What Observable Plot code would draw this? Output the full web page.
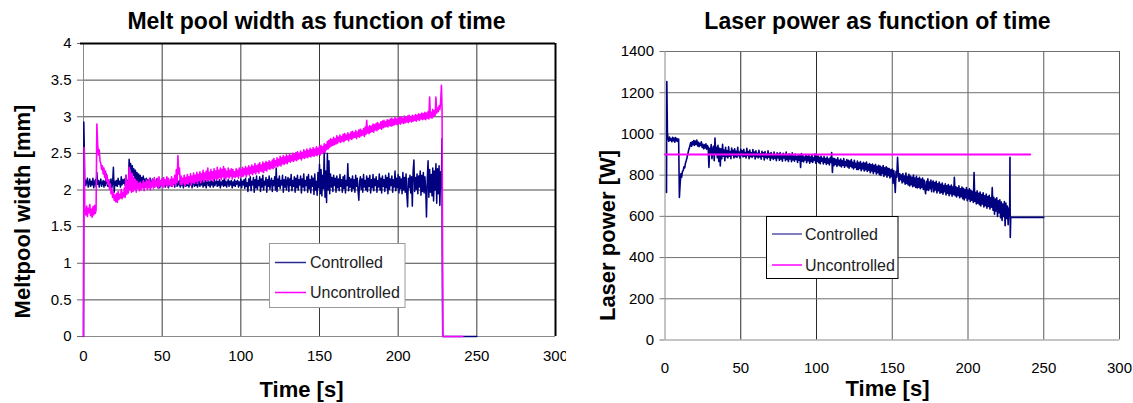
<!DOCTYPE html>
<html><head><meta charset="utf-8">
<script src="https://cdn.jsdelivr.net/npm/d3@7"></script>
<script src="https://cdn.jsdelivr.net/npm/@observablehq/plot@0.6"></script>
<style>
body{margin:0;background:#fff;}
#wrap{position:relative;width:1133px;height:403px;}
#left{position:absolute;left:0;top:0;}
#right{position:absolute;left:566px;top:0;}
</style></head><body><div id="wrap"><div id="left"></div><div id="right"></div></div>
<script>
// ---------- data ----------
const timeTicks = [0, 50, 100, 150, 200, 250, 300];
const widthTicks = [0, 0.5, 1, 1.5, 2, 2.5, 3, 3.5, 4];
const powerTicks = [0, 200, 400, 600, 800, 1000, 1200, 1400];
const seriesNames = ["Controlled", "Uncontrolled"];
const STEP = 0.5; // sampling step of the body arrays [s]

// Melt pool width, controlled [mm]  (body: t = 1 .. 227.5)
const cwHead = [[0, 0], [0.2, 2.93], [0.5, 2.58], [0.8, 2.1]];
const cwStart = 1;
const cwBody = [
2.14,2.06,2.11,2.16,2.04,2.09,2.15,2.05,2.12,2.07,
2.16,2.03,2.10,2.14,2.05,2.24,2.08,2.13,2.04,2.11,
2.15,2.05,2.09,2.13,2.04,2.12,2.06,2.22,2.10,2.05,
2.14,2.04,2.11,2.15,2.03,2.09,2.31,1.97,2.12,2.06,
2.13,2.05,2.16,2.08,2.12,2.04,2.18,2.07,2.14,2.09,
2.15,2.06,2.20,2.10,2.13,2.05,2.42,2.30,2.36,2.18,
2.33,2.20,2.29,2.16,2.27,2.12,2.24,2.10,2.22,2.08,
2.20,2.07,2.17,2.09,2.19,2.05,2.15,2.08,2.16,2.04,
2.14,2.06,2.12,2.16,2.04,2.10,2.15,2.05,2.13,2.07,
2.11,2.15,2.04,2.09,2.14,2.03,2.12,2.06,2.15,2.05,
2.10,2.13,2.04,2.12,2.07,2.15,2.03,2.11,2.06,2.14,
2.05,2.12,2.08,2.13,2.04,2.10,2.14,2.05,2.12,2.07,
2.13,2.04,2.11,2.06,2.14,2.03,2.10,2.12,2.05,2.13,
2.06,2.11,2.04,2.14,2.07,2.12,2.03,2.10,2.13,2.05,
2.12,2.06,2.14,2.04,2.09,2.13,2.05,2.11,2.07,2.14,
2.04,2.12,2.06,2.13,2.03,2.10,2.14,2.06,2.11,2.04,
2.13,2.07,2.12,2.04,2.15,2.06,2.10,2.13,2.05,2.12,
2.06,2.14,2.03,2.11,2.07,2.13,2.05,2.16,2.06,2.12,
2.04,2.10,2.14,2.05,2.12,2.07,2.13,2.03,2.11,2.06,
2.14,2.05,2.12,2.08,2.13,2.04,2.11,2.06,2.15,2.03,
2.12,2.07,2.14,2.02,2.16,2.05,2.10,1.98,2.15,2.06,
2.18,1.99,2.12,2.07,2.17,1.97,2.14,2.03,2.19,2.01,
2.13,2.06,2.18,1.98,2.15,2.04,2.20,2.00,2.12,2.07,
2.17,1.97,2.14,2.05,2.19,2.01,2.11,2.16,1.98,2.13,
2.06,2.18,2.00,2.30,1.98,2.15,2.05,2.19,2.02,2.13,
2.07,2.20,1.97,2.14,2.04,2.18,2.00,2.12,2.17,1.98,
2.15,2.06,2.21,1.99,2.13,2.05,2.18,1.97,2.16,2.03,
2.20,2.00,2.14,2.07,2.19,1.96,2.15,2.04,2.22,1.99,
2.13,2.06,2.18,1.97,2.21,2.02,2.14,1.96,2.19,2.05,
2.16,1.94,2.22,2.00,2.12,1.93,2.24,2.03,2.35,1.95,
2.28,1.92,2.20,2.02,2.52,1.90,2.26,1.83,2.50,2.00,
2.40,1.95,2.22,2.04,2.17,1.98,2.20,2.06,2.16,1.97,
2.19,2.03,2.15,1.99,2.21,2.05,2.14,1.97,2.18,2.02,
2.20,1.96,2.13,2.06,2.36,1.99,2.17,2.04,2.15,1.98,
2.19,2.02,2.14,1.97,2.20,2.05,2.16,1.99,1.86,2.12,
2.18,2.01,2.15,1.97,2.21,2.04,2.13,2.00,2.19,1.98,
2.16,2.05,2.20,1.96,2.14,2.03,2.21,1.99,2.15,2.06,
2.18,1.97,2.13,2.04,2.22,2.00,2.16,1.96,2.19,2.05,
2.14,1.98,2.20,2.03,2.17,1.95,2.23,2.01,2.15,2.06,
2.19,1.97,2.14,2.04,2.26,1.99,2.16,2.03,2.21,1.96,
2.18,2.02,2.15,1.95,2.24,2.00,2.17,1.97,2.22,1.94,
1.77,2.16,2.03,2.20,1.96,2.18,1.78,2.25,2.41,1.98,
2.17,2.01,2.22,1.95,2.19,2.04,2.26,1.93,2.20,1.98,
2.24,1.96,2.18,2.02,1.63,2.15,2.40,1.90,2.28,1.97,
2.21,1.92,2.30,1.85,2.26,2.00,2.36,1.82,2.29,1.95,
2.33,1.79,2.25,2.02
];
const cwTail = [[227.8, 2.7], [228, 1.23], [228.3, 0], [250, 0]];

// Melt pool width, uncontrolled [mm]  (body: t = 1 .. 227.5)
const uwHead = [[0, 0], [0.4, 2.58], [0.8, 1.7]];
const uwStart = 1;
const uwBody = [
1.72,1.66,1.78,1.64,1.75,1.69,1.80,1.65,1.74,1.63,
1.77,1.66,1.79,1.68,1.73,2.90,2.62,2.48,2.55,2.40,
2.36,2.28,2.33,2.22,2.30,2.17,2.26,2.12,2.20,2.08,
2.14,2.01,2.08,1.95,2.02,1.90,1.97,1.86,1.93,1.84,
1.95,1.83,1.98,1.87,1.94,1.89,2.01,1.88,1.97,1.91,
2.03,1.90,2.20,1.94,2.12,1.96,2.31,2.00,2.24,1.97,
2.22,1.98,2.17,2.01,2.14,1.97,2.12,2.02,2.09,1.99,
2.11,2.00,2.08,2.03,2.13,1.99,2.10,2.04,2.14,2.01,
2.12,2.03,2.16,2.00,2.11,2.05,2.14,2.02,2.17,2.04,
2.12,2.06,2.16,2.02,2.18,2.05,2.13,2.07,2.15,2.03,
2.17,2.05,2.14,2.08,2.18,2.04,2.16,2.07,2.13,2.06,
2.18,2.05,2.15,2.09,2.20,2.06,2.28,2.10,2.47,2.22,
2.30,2.08,2.19,2.07,2.16,2.10,2.20,2.06,2.17,2.09,
2.21,2.08,2.18,2.11,2.22,2.07,2.19,2.10,2.23,2.09,
2.20,2.12,2.24,2.09,2.21,2.13,2.25,2.10,2.22,2.14,
2.27,2.11,2.23,2.15,2.26,2.12,2.30,2.14,2.24,2.13,
2.28,2.15,2.25,2.12,2.29,2.16,2.26,2.14,2.31,2.15,
2.27,2.17,2.30,2.14,2.28,2.18,2.32,2.16,2.29,2.15,
2.26,2.18,2.30,2.16,2.27,2.19,2.29,2.15,2.28,2.18,
2.25,2.17,2.29,2.19,2.27,2.16,2.30,2.20,2.28,2.18,
2.31,2.19,2.29,2.21,2.32,2.18,2.30,2.22,2.33,2.20,
2.31,2.23,2.34,2.21,2.32,2.24,2.36,2.22,2.33,2.25,
2.35,2.23,2.37,2.26,2.34,2.25,2.38,2.24,2.36,2.27,
2.39,2.26,2.37,2.29,2.40,2.28,2.38,2.30,2.41,2.29,
2.43,2.31,2.40,2.33,2.44,2.32,2.42,2.34,2.46,2.33,
2.44,2.36,2.47,2.35,2.45,2.37,2.48,2.36,2.46,2.39,
2.49,2.38,2.47,2.40,2.50,2.39,2.48,2.41,2.51,2.40,
2.52,2.42,2.50,2.43,2.53,2.41,2.51,2.44,2.55,2.43,
2.53,2.45,2.56,2.44,2.54,2.46,2.57,2.45,2.55,2.47,
2.58,2.46,2.56,2.48,2.59,2.47,2.57,2.49,2.60,2.48,
2.61,2.50,2.59,2.52,2.63,2.51,2.62,2.55,2.66,2.56,
2.68,2.58,2.70,2.60,2.69,2.61,2.72,2.62,2.70,2.63,
2.74,2.64,2.72,2.66,2.75,2.65,2.73,2.67,2.76,2.66,
2.77,2.68,2.75,2.69,2.78,2.67,2.76,2.70,2.79,2.69,
2.80,2.71,2.78,2.72,2.81,2.70,2.79,2.73,2.82,2.72,
2.83,2.74,2.81,2.75,2.84,2.73,2.86,2.76,2.95,2.78,
2.86,2.77,2.88,2.79,2.87,2.80,2.90,2.79,2.89,2.82,
2.91,2.81,2.92,2.83,2.90,2.84,2.93,2.83,2.94,2.85,
2.95,2.86,2.93,2.87,2.96,2.86,2.95,2.88,2.97,2.87,
2.98,2.88,2.96,2.89,2.99,2.90,2.97,2.89,2.98,2.91,
2.99,2.90,3.00,2.92,2.98,2.91,3.01,2.92,2.99,2.93,
3.01,2.92,3.02,2.94,3.00,2.93,3.02,2.94,3.01,2.95,
3.03,2.94,3.02,2.96,3.04,2.95,3.03,2.97,3.05,2.96,
3.04,2.97,3.06,2.96,3.05,2.98,3.07,2.97,3.27,2.99,
3.06,2.98,3.10,3.00,3.08,3.02,3.27,3.05,3.12,3.07,
3.15,3.10,3.20,3.43
];
const uwTail = [[227.9, 3.1], [228.4, 0], [241, 0]];

// Laser power, controlled [W]  (body: t = 2 .. 227.5)
const cpHead = [[1.0, 716], [1.2, 1254], [1.6, 1007]];
const cpStart = 2;
const cpBody = [
978,964,985,969,976,962,984,967,980,960,
982,966,977,963,975,692,760,806,790,818,
822,840,835,858,870,884,900,918,930,945,
958,940,962,948,968,944,965,950,970,942,
960,938,955,944,962,935,950,928,947,932,
952,926,944,935,837,930,908,948,880,925,
940,870,980,902,935,885,945,866,930,845,
928,880,950,892,922,870,935,890,918,884,
938,892,915,880,932,898,920,884,928,890,
916,886,935,894,912,882,926,896,918,888,
925,892,910,884,930,895,915,880,922,890,
908,886,924,893,912,879,918,890,906,884,
920,888,904,878,916,892,908,874,914,886,
902,880,918,887,905,872,910,884,900,876,
912,882,898,870,908,885,902,872,910,878,
896,868,906,883,900,870,912,876,894,866,
904,879,898,865,908,874,892,868,902,876,
890,862,900,872,894,837,905,868,896,864,
888,874,900,860,892,870,896,858,888,866,
898,862,884,872,902,858,890,866,894,860,
886,856,892,868,882,854,890,862,880,852,
888,858,878,850,884,862,910,813,882,846,
880,852,874,842,884,850,872,845,878,840,
870,848,880,838,866,846,876,840,872,834,
868,842,876,836,862,830,872,838,858,828,
868,826,860,832,866,822,856,830,862,820,
858,826,864,818,852,824,856,812,850,820,
854,808,846,818,852,806,842,812,848,802,
844,798,838,808,846,794,836,802,840,790,
834,798,832,786,826,794,830,760,822,784,
716,818,790,886,812,770,806,778,800,762,
808,768,796,756,810,760,792,752,804,748,
796,754,790,744,800,748,786,740,794,738,
784,742,790,734,780,740,786,730,776,736,
710,770,728,782,726,766,734,776,720,762,
772,718,764,728,770,714,758,724,766,712,
756,716,762,708,750,720,758,704,748,712,
754,700,746,710,752,698,742,706,789,700,
744,694,738,702,748,690,734,696,742,686,
736,680,730,690,740,676,728,684,734,672,
726,678,720,668,813,672,716,660,724,664,
712,656,718,650,706,660,714,646,700,652,
708,640,696,648,702,636,690,644,740,630,
692,610,684,626,690,600,676,618,680,594,
670,580,660,600,672,555,664,590,650,560,
640,620
];
const cpTail = [[227.7, 886], [227.9, 498], [228.2, 595], [250, 595]];

// Laser power, uncontrolled [W]
const upPoints = [[0, 900], [241, 900]];

// ---------- build ----------
function series(head, start, body, tail) {
  return [
    ...head.map(([t, v]) => ({t, v})),
    ...body.map((v, i) => ({t: start + i * STEP, v})),
    ...tail.map(([t, v]) => ({t, v}))
  ];
}
const cw = series(cwHead, cwStart, cwBody, cwTail);
const uw = series(uwHead, uwStart, uwBody, uwTail);
const cp = series(cpHead, cpStart, cpBody, cpTail);
const up = series(upPoints, 0, [], []);

const FONT = "'Liberation Sans', Arial, Helvetica, sans-serif";
const NAVY = "#000080", MAGENTA = "#ff00ff";
const label = (txt, o) => Plot.text([txt], {text: d => d, frameAnchor: "top-left", textAnchor: "middle",
  lineAnchor: "middle", fontWeight: "bold", fill: "#000", ...o});

// Left chart
const leftPlot = Plot.plot({
  width: 566, height: 403,
  marginLeft: 83, marginRight: 11, marginTop: 43, marginBottom: 67,
  style: {fontFamily: FONT, background: "white", overflow: "visible", color: "#000"},
  x: {domain: [0, 300]},
  y: {domain: [0, 4]},
  marks: [
    Plot.gridX(timeTicks.filter(d => d > 0 && d < 300), {stroke: "#3a3a3a", strokeOpacity: 1}),
    Plot.gridY(widthTicks.filter(d => d > 0 && d < 4), {stroke: "#4a4a4a", strokeOpacity: 1}),
    Plot.ruleX([0], {stroke: "#8a8a8a"}),
    Plot.ruleY([0], {stroke: "#8a8a8a"}),
    Plot.axisX(timeTicks, {tickSize: 0, tickPadding: 14, fontSize: 15, label: null, tickFormat: d => String(d)}),
    Plot.axisY(widthTicks, {tickSize: 6, tickPadding: 6, fontSize: 15, label: null, tickFormat: d => String(d), stroke: "#666"}),
    Plot.line(cw, {x: "t", y: "v", stroke: NAVY, strokeWidth: 1.5}),
    Plot.line(uw, {x: "t", y: "v", stroke: MAGENTA, strokeWidth: 1.6}),
    Plot.ruleY([4], {stroke: "#000", strokeWidth: 2, insetLeft: -3}),
    Plot.ruleX([300], {stroke: "#000", strokeWidth: 2}),
    label("Melt pool width as function of time", {fontSize: 23, dx: 233, dy: -22}),
    label("Meltpool width [mm]", {fontSize: 22, dx: -61, dy: 168, rotate: -90}),
    label("Time [s]", {fontSize: 22, dx: 218, dy: 346})
  ]
});
document.getElementById("left").append(leftPlot);

// Right chart
const rightPlot = Plot.plot({
  width: 567, height: 403,
  marginLeft: 98.5, marginRight: 14, marginTop: 51, marginBottom: 63.5,
  style: {fontFamily: FONT, background: "white", overflow: "visible", color: "#000"},
  x: {domain: [0, 300]},
  y: {domain: [0, 1400]},
  marks: [
    Plot.gridX(timeTicks.filter(d => d > 0 && d <= 100), {stroke: "#2a2a2a", strokeOpacity: 1}),
    Plot.gridX(timeTicks.filter(d => d > 100), {stroke: "#5a5a5a", strokeOpacity: 1}),
    Plot.gridY(powerTicks.filter(d => d > 0), {stroke: "#707070", strokeOpacity: 1}),
    Plot.ruleX([0], {stroke: "#8a8a8a"}),
    Plot.ruleY([0], {stroke: "#8a8a8a"}),
    Plot.axisX(timeTicks, {tickSize: 0, tickPadding: 22, fontSize: 15, label: null, tickFormat: d => String(d)}),
    Plot.axisY(powerTicks, {tickSize: 5, tickPadding: 6, fontSize: 15, label: null, tickFormat: d => String(d), stroke: "#777"}),
    Plot.line(cp, {x: "t", y: "v", stroke: NAVY, strokeWidth: 1.6}),
    Plot.line(up, {x: "t", y: "v", stroke: MAGENTA, strokeWidth: 2}),
    label("Laser power as function of time", {fontSize: 23, dx: 212.5, dy: -30}),
    label("Laser power [W]", {fontSize: 22, dx: -57, dy: 184, rotate: -90}),
    label("Time [s]", {fontSize: 22, dx: 222.5, dy: 337})
  ]
});
document.getElementById("right").append(rightPlot);

// Legends
function legend(svgNode, box, lineX, rowsY, textX, border, colors) {
  const g = d3.select(svgNode).append("g").attr("font-family", FONT).attr("font-size", 16)
    .attr("text-anchor", "start");
  g.append("rect").attr("x", box[0]).attr("y", box[1]).attr("width", box[2] - box[0]).attr("height", box[3] - box[1])
    .attr("fill", "white").attr("stroke", border).attr("stroke-width", 1);
  seriesNames.forEach((name, i) => {
    g.append("line").attr("x1", lineX[0]).attr("x2", lineX[1]).attr("y1", rowsY[i]).attr("y2", rowsY[i])
      .attr("stroke", colors[i]).attr("stroke-width", 1.5);
    g.append("text").attr("x", textX).attr("y", rowsY[i]).attr("dy", "0.35em").attr("text-anchor", "start")
      .attr("fill", "#222").text(name);
  });
}
legend(leftPlot, [269.5, 243.5, 405, 307.5], [275, 306], [262.5, 292.5], 310, "#9a9a9a", ["#2a2a90", MAGENTA]);
legend(rightPlot, [200.5, 216.5, 332, 278.5], [206, 236], [234, 265], 239, "#000", ["#5555aa", MAGENTA]);
</script></body></html>
